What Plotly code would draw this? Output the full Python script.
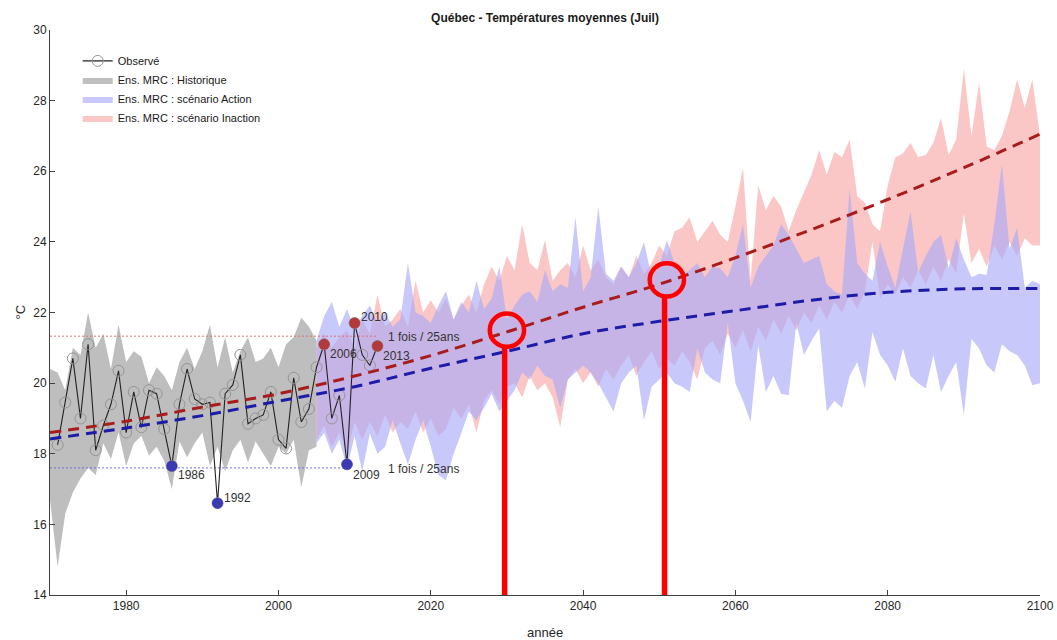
import numpy as np
import plotly.graph_objects as go

# ---------------- data ----------------
obs_years = list(range(1971, 2014))
obs_temp = [18.25, 19.45, 20.7, 19.0, 21.1, 18.1, 18.8, 19.4, 20.35, 18.6,
            19.75, 18.75, 19.8, 19.7, 18.7, 17.65, 19.4, 20.4, 19.55, 19.4,
            19.45, 16.6, 19.7, 19.95, 20.8, 18.85, 19.0, 19.1, 19.75, 18.4,
            18.15, 20.15, 18.9, 19.27, 20.45, 21.1, 19.0, 19.65, 17.7, 21.7,
            20.8, 20.5, 21.05]

hot_years = [2006, 2010, 2013]
cold_years = [1986, 1992, 2009]
hot_threshold = 21.33
cold_threshold = 17.6

hist_years = list(range(1970, 2006))
hist_hi = [20.4, 20.3, 19.8, 21.0, 20.8, 22.0, 21.0, 21.4, 20.4, 21.65,
           20.6, 20.9, 20.75, 20.0, 20.45, 20.2, 19.8, 20.6, 21.0, 20.4,
           20.9, 21.65, 20.45, 21.3, 20.3, 20.9, 21.3, 20.6, 20.7, 21.0,
           20.45, 21.1, 21.3, 21.85, 21.6, 21.2]
hist_lo = [16.7, 14.8, 16.3, 16.9, 17.3, 17.6, 17.4, 18.3, 17.85, 18.6,
           17.65, 18.3, 18.5, 17.95, 18.2, 17.8, 17.0, 18.35, 17.9, 18.3,
           18.6, 17.65, 18.2, 17.5, 18.1, 18.4, 17.75, 18.35, 18.0, 17.65,
           18.2, 18.0, 18.4, 17.05, 18.1, 18.2]

proj_years = list(range(2005, 2101))
action_hi = [21.2, 21.9, 22.3, 21.6, 22.1, 21.5, 21.9, 22.2, 21.7, 22.0,
             21.6, 21.8, 23.4, 22.0, 21.9, 21.7, 22.2, 22.6, 21.8, 22.3,
             22.0, 22.9, 22.1, 22.4, 23.3, 21.8, 22.2, 22.5, 22.6, 22.3,
             23.2, 22.6, 22.8, 22.7, 24.7, 22.6, 23.0, 25.0, 23.1, 22.9,
             23.3, 23.0, 23.4, 24.0, 23.0, 23.3, 24.05, 23.4, 23.1, 23.2,
             23.4, 23.0, 23.3, 23.25, 23.0, 23.6, 24.5, 22.7, 23.3, 23.6,
             23.9, 24.5, 24.2, 23.8, 23.4, 23.5, 23.6, 22.8, 22.6, 22.5,
             25.5, 23.4, 23.1, 22.9, 24.0, 23.3, 22.7, 23.8, 24.85, 23.15,
             23.6, 24.0, 24.2, 23.25, 24.1, 23.5, 23.0, 23.1, 23.06, 24.5,
             26.2, 23.8, 24.4, 22.7, 22.9, 22.8]
action_lo = [18.3, 18.6, 18.0, 18.4, 17.6, 18.5, 17.5, 18.57, 18.0, 18.2,
             18.95, 18.3, 17.7, 18.4, 18.95, 18.2, 17.4, 17.25, 18.0, 18.57,
             19.2, 18.95, 19.3, 19.7, 19.2, 19.5, 19.8, 20.3, 20.1, 20.5,
             20.2, 20.1, 19.3, 20.1, 20.3, 20.5, 20.3, 20.0, 19.6, 19.2,
             20.0, 20.3, 20.5, 18.95, 19.9, 20.1, 20.3, 20.0, 19.9, 19.75,
             20.98, 20.3, 20.1, 20.0, 21.7, 20.0, 19.5, 18.9, 21.08, 19.75,
             20.2, 19.7, 19.66, 21.7, 20.8, 21.2, 21.55, 19.2, 19.5, 19.3,
             20.2, 20.6, 19.85, 21.45, 20.8, 20.5, 20.04, 20.98, 20.2, 20.0,
             19.85, 20.8, 19.75, 20.2, 20.6, 19.1, 21.26, 20.98, 20.5, 20.3,
             21.1, 20.9, 20.8, 20.5, 19.94, 20.0]
inaction_hi = [21.0, 21.4, 21.0, 21.3, 21.5, 21.0, 21.8, 21.4, 22.5, 21.6,
               21.8, 22.1, 21.6, 22.9, 22.0, 22.35, 22.0, 22.4, 21.8, 22.2,
               22.5, 22.0, 22.8, 23.3, 22.9, 23.6, 23.2, 24.5, 23.4, 23.2,
               24.05, 22.9, 23.2, 23.4, 23.0, 23.9, 23.2, 23.5, 23.0, 22.8,
               23.3, 23.0, 23.6, 23.1, 23.4, 23.9, 23.6, 24.3, 24.4, 24.7,
               24.0, 24.3, 24.6, 24.2, 24.0, 25.0, 26.1, 22.9, 25.6, 24.9,
               25.3, 25.0, 24.3, 24.9, 25.4, 25.9, 26.6, 25.9, 26.55, 26.4,
               26.9, 25.3, 25.1, 24.5, 24.3, 25.6, 26.4, 26.5, 26.8, 26.4,
               26.46, 26.8, 27.5, 26.46, 26.9, 28.9, 27.0, 28.5, 26.7, 26.6,
               27.0, 27.7, 28.6, 27.8, 28.6, 27.0]
inaction_lo = [18.4, 18.8, 18.2, 18.6, 18.0, 18.9, 18.4, 18.9, 18.5, 19.1,
               18.6, 18.9, 18.7, 19.2, 18.6, 19.0, 18.5, 18.7, 19.3, 19.0,
               19.4, 18.6, 19.5, 19.8, 19.4, 19.9, 20.0, 19.6, 20.2, 19.8,
               20.0, 19.6, 18.75, 20.1, 20.4, 20.0, 20.3, 19.9, 20.4, 20.1,
               20.5, 20.8, 20.2, 20.6, 20.9, 20.4, 20.7, 20.5, 20.9, 20.6,
               20.1, 21.0, 21.2, 20.8, 21.4, 21.0, 21.5, 20.9, 21.6, 21.2,
               21.8, 21.4, 21.9, 21.5, 22.0, 21.7, 22.2, 21.8, 22.3, 22.0,
               22.5, 22.1, 22.6, 24.0, 22.4, 22.8, 22.5, 23.0, 22.7, 23.2,
               22.8, 23.3, 22.9, 23.5, 23.1, 24.8, 23.4, 23.8, 23.3, 23.9,
               23.5, 24.0, 23.6, 24.1, 23.9, 23.9]

trend_years = [1970, 1980, 1990, 2000, 2010, 2020, 2030, 2040, 2050, 2060, 2070, 2080, 2090, 2100]
trend_inaction = [18.6, 18.92, 19.32, 19.7, 20.2, 20.78, 21.45, 22.15, 22.8, 23.55, 24.35, 25.2, 26.1, 27.05]
trend_action = [18.42, 18.73, 19.08, 19.49, 19.9, 20.42, 20.9, 21.4, 21.75, 22.05, 22.35, 22.57, 22.67, 22.68]

highlight_years = [2030, 2051]

x_ticks = [1980, 2000, 2020, 2040, 2060, 2080, 2100]
y_ticks = [14, 16, 18, 20, 22, 24, 26, 28, 30]

FONT = "Liberation Sans, Arial, Helvetica, sans-serif"
TXT = "#262626"

W, H = 1057, 640
ML, MR, MT, MB = 50, 17, 30, 45
PLOT_H = H - MT - MB
PLOT_W = W - ML - MR

fig = go.Figure()

def band(xs, hi, lo, name, color, rank):
    fig.add_trace(go.Scatter(
        x=list(xs) + list(xs)[::-1], y=list(hi) + list(lo)[::-1],
        fill="toself", fillcolor=color, mode="lines", line=dict(width=0),
        name=name, legendrank=rank, hoverinfo="skip"))

band(hist_years, hist_hi, hist_lo, "Ens. MRC : Historique", "rgb(190,190,190)", 2)
band(proj_years, inaction_hi, inaction_lo, "Ens. MRC : scénario Inaction", "rgba(245,120,120,0.42)", 4)
band(proj_years, action_hi, action_lo, "Ens. MRC : scénario Action", "rgba(170,170,247,0.65)", 3)

# threshold dotted lines
obs_map = dict(zip(obs_years, obs_temp))
fig.add_trace(go.Scatter(x=[1970, max(hot_years)], y=[hot_threshold] * 2, mode="lines",
                         line=dict(color="#e07070", width=1, dash="2px,2px"), showlegend=False))
fig.add_trace(go.Scatter(x=[1970, max(cold_years)], y=[cold_threshold] * 2, mode="lines",
                         line=dict(color="#7070e0", width=1, dash="2px,2px"), showlegend=False))

# observed
fig.add_trace(go.Scatter(x=obs_years, y=obs_temp, mode="lines+markers", name="Observé",
                         legendrank=1,
                         line=dict(color="#222222", width=1.1),
                         marker=dict(symbol="circle-open", size=11, color="#949494",
                                     line=dict(width=1))))

# trends
fig.add_trace(go.Scatter(x=trend_years, y=trend_inaction, mode="lines", line_shape="spline",
                         line=dict(color="#a81c1c", width=3, dash="11px,7px"), showlegend=False))
fig.add_trace(go.Scatter(x=trend_years, y=trend_action, mode="lines", line_shape="spline",
                         line=dict(color="#1c1ca8", width=3, dash="11px,7px"), showlegend=False))

# extreme points
fig.add_trace(go.Scatter(x=hot_years, y=[obs_map[y] for y in hot_years], mode="markers",
                         marker=dict(size=11, color="#b23a3a"), showlegend=False))
fig.add_trace(go.Scatter(x=cold_years, y=[obs_map[y] for y in cold_years], mode="markers",
                         marker=dict(size=11, color="#3a3ab2"), showlegend=False))

label_shift = {1986: (4, -9), 1992: (4, 5), 2009: (4, -11),
               2006: (4, -10), 2010: (4, 6), 2013: (4, -10)}
for yr in hot_years + cold_years:
    dx, dy = label_shift[yr]
    fig.add_annotation(x=yr, y=obs_map[yr], text=str(yr), showarrow=False,
                       xanchor="left", yanchor="middle", xshift=dx, yshift=dy,
                       font=dict(size=12, color="#333333", family=FONT))

for thr in (hot_threshold, cold_threshold):
    fig.add_annotation(x=max(hot_years), y=thr, text="1 fois / 25ans", showarrow=False,
                       xanchor="left", yanchor="middle", xshift=9, yshift=-1,
                       font=dict(size=12, color="#333333", family=FONT))

# highlight circles and vertical bars
trend_fn = lambda yr: float(np.interp(yr, trend_years, trend_inaction))
rx, ry = 2.25, 0.47
for yr in highlight_years:
    cy = trend_fn(yr) + 0.05
    fig.add_shape(type="circle", xref="x", yref="y", x0=yr - rx, x1=yr + rx,
                  y0=cy - ry, y1=cy + ry, line=dict(color="#ff0000", width=4.5))
    fig.add_shape(type="line", xref="x", yref="y", x0=yr - 0.3, x1=yr - 0.3,
                  y0=14, y1=cy - ry, line=dict(color="#ff0000", width=5.5))

fig.update_layout(
    width=W, height=H,
    margin=dict(l=ML, r=MR, t=MT, b=MB, autoexpand=False),
    paper_bgcolor="white", plot_bgcolor="white",
    font=dict(family=FONT, size=12, color=TXT),
    title=dict(text="<b>Québec - Températures moyennes (Juil)</b>", x=0.5, xref="paper",
               y=1 - 18 / H, yanchor="middle", font=dict(size=12, color="#1a1a1a")),
    legend=dict(x=0.028, y=0.971, xanchor="left", yanchor="top", bgcolor="rgba(255,255,255,0)",
                font=dict(size=11, color="#1a1a1a"), tracegroupgap=0, itemwidth=30,
                traceorder="normal"),
    showlegend=True,
)
fig.update_xaxes(range=[1970, 2100], tickvals=x_ticks, ticks="inside", ticklen=5,
                 tickcolor="#404040", showline=True, linecolor="#404040", linewidth=1,
                 showgrid=False, zeroline=False, mirror=False, automargin=False,
                 tickfont=dict(size=12, color=TXT))
fig.update_yaxes(range=[14, 30], tickvals=y_ticks, ticks="inside", ticklen=5,
                 tickcolor="#404040", showline=True, linecolor="#404040", linewidth=1,
                 showgrid=False, zeroline=False, mirror=False, automargin=False,
                 tickfont=dict(size=12, color=TXT))
fig.add_annotation(text="année", xref="paper", yref="paper", x=0.5, y=-37 / PLOT_H,
                   showarrow=False, yanchor="middle", font=dict(size=13, color=TXT))
fig.add_annotation(text="°C", xref="paper", yref="paper", x=-30 / PLOT_W, y=0.5,
                   showarrow=False, textangle=-90, xanchor="center", yanchor="middle",
                   font=dict(size=13, color=TXT))

# remove the default 8px page margin so the figure fills the window exactly
fig.write_html("out.html",
               config={"displayModeBar": False},
               post_script="document.body.style.margin='0';document.body.style.overflow='hidden';")
